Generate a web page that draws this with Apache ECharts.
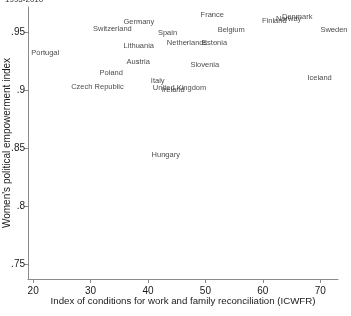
<!DOCTYPE html>
<html>
<head>
<meta charset="utf-8">
<script src="https://cdn.jsdelivr.net/npm/echarts@6/dist/echarts.min.js"></script>
<style>
  html, body { margin: 0; padding: 0; background: #fff; }
  #main { width: 351px; height: 316px; }
</style>
</head>
<body>
<div id="main"></div>
<script>
// 国家及两项指标
var countries = ['Portugal', 'Czech Republic', 'Poland', 'Switzerland', 'Germany', 'Lithuania',
  'Austria', 'Spain', 'Italy', 'United Kingdom', 'Ireland', 'Hungary', 'Netherlands', 'Estonia',
  'Slovenia', 'France', 'Belgium', 'Finland', 'Norway', 'Denmark', 'Sweden', 'Iceland'];
var icwfr = [22.1, 31.2, 33.6, 33.8, 38.4, 38.4, 38.3, 43.4, 41.7, 45.5, 44.4, 43.1, 46.8, 51.6,
  49.9, 51.2, 54.5, 62.0, 64.5, 66.0, 72.4, 69.9];
var wpei = [0.932, 0.903, 0.915, 0.953, 0.959, 0.938, 0.924, 0.949, 0.908, 0.902, 0.900, 0.844,
  0.941, 0.941, 0.922, 0.965, 0.952, 0.960, 0.9615, 0.963, 0.952, 0.910];

var xTicks = [20, 30, 40, 50, 60, 70];
var yTicks = [0.75, 0.8, 0.85, 0.9, 0.95];

var font = 'Liberation Sans, Arial, sans-serif';

var points = [];
for (var i = 0; i < countries.length; i++) {
  points.push({ name: countries[i], value: [icwfr[i], wpei[i]] });
}

var chart = echarts.init(document.getElementById('main'), null, { renderer: 'canvas' });

chart.setOption({
  animation: false,
  backgroundColor: '#fff',
  title: {
    text: '1995-2010',
    left: 0,
    top: -9,
    textStyle: { fontFamily: font, fontSize: 8, fontWeight: 'normal', color: '#333' }
  },
  grid: { left: 28, right: 13, top: 7, bottom: 37, containLabel: false, outerBoundsMode: 'none' },
  xAxis: {
    type: 'value',
    min: 19.1,
    max: 73.1,
    name: 'Index of conditions for work and family reconciliation (ICWFR)',
    nameLocation: 'middle',
    nameGap: 17,
    nameMoveOverlap: false,
    nameTextStyle: { fontFamily: font, fontSize: 9.7, color: '#1a1a1a' },
    axisLine: { show: true, lineStyle: { color: '#8a8a8a', width: 1 } },
    axisTick: { show: true, length: 4, lineStyle: { color: '#8a8a8a' }, customValues: xTicks },
    axisLabel: { fontFamily: font, fontSize: 10, color: '#1a1a1a', margin: 7, customValues: xTicks },
    splitLine: { show: false }
  },
  yAxis: {
    type: 'value',
    min: 0.737,
    max: 0.9716,
    name: "Women's political empowerment index",
    nameLocation: 'middle',
    nameGap: 16,
    nameMoveOverlap: false,
    nameTextStyle: { fontFamily: font, fontSize: 10, color: '#1a1a1a' },
    axisLine: { show: true, lineStyle: { color: '#8a8a8a', width: 1 } },
    axisTick: { show: true, length: 4, lineStyle: { color: '#8a8a8a' }, customValues: yTicks },
    axisLabel: {
      fontFamily: font, fontSize: 10, color: '#1a1a1a', margin: 3, customValues: yTicks,
      formatter: function (v) {
        return String(+v.toFixed(2)).replace(/^0/, '');
      }
    },
    splitLine: { show: false }
  },
  series: [{
    type: 'scatter',
    data: points,
    symbol: 'circle',
    symbolSize: 1.5,
    itemStyle: { color: 'rgba(155,59,75,0.6)' },
    label: {
      show: true,
      position: 'inside',
      formatter: '{b}',
      fontFamily: font,
      fontSize: 7.5,
      color: '#1a1a1a'
    }
  }]
});
</script>
</body>
</html>
